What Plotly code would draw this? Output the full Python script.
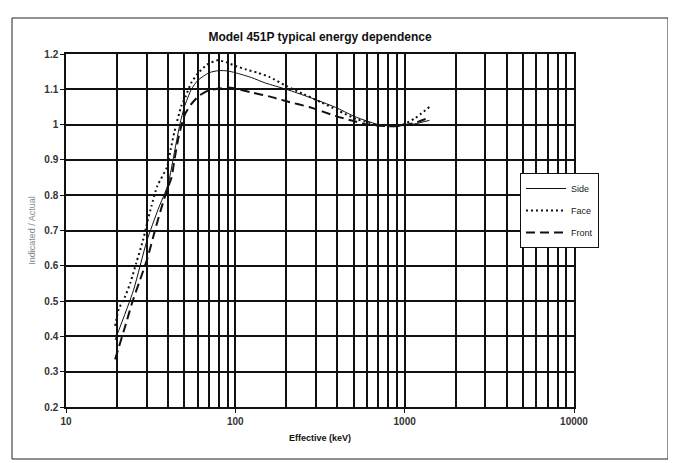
import plotly.graph_objects as go

# ---- data ----
side_e = [19.5, 25, 30, 35, 40, 44, 47, 50, 55, 60, 70, 80, 90, 100, 125, 150, 200, 275, 390, 500, 600, 700, 830, 965, 1150, 1400]
side_v = [0.39, 0.53, 0.67, 0.76, 0.83, 0.93, 1.0, 1.05, 1.10, 1.125, 1.147, 1.153, 1.152, 1.147, 1.133, 1.118, 1.10, 1.077, 1.049, 1.024, 1.01, 1.0, 0.996, 0.997, 1.002, 1.012]

face_e = [19.5, 20.5, 22.2, 24, 26, 28.5, 30.2, 32, 34.6, 39.5, 41.6, 43.6, 48, 51, 55, 60.6, 68, 78, 88, 99, 116, 135, 159, 201, 254, 322, 408, 517, 655, 811, 965, 1150, 1400]
face_v = [0.43, 0.478, 0.51, 0.552, 0.608, 0.672, 0.723, 0.77, 0.826, 0.88, 0.932, 0.978, 1.053, 1.081, 1.119, 1.147, 1.17, 1.182, 1.177, 1.167, 1.156, 1.147, 1.135, 1.109, 1.086, 1.063, 1.039, 1.016, 1.002, 0.995, 0.999, 1.018, 1.05]

front_e = [19.5, 22.6, 24.6, 27, 30.2, 33.9, 37.4, 40.3, 42, 43.8, 46, 48.3, 50.5, 54.9, 60.8, 68, 80, 90, 100, 125, 158, 201, 276, 393, 500, 600, 707, 830, 965, 1150, 1400]
front_v = [0.335, 0.436, 0.496, 0.552, 0.62, 0.709, 0.779, 0.826, 0.85, 0.903, 0.96, 1.002, 1.03, 1.058, 1.081, 1.095, 1.102, 1.105, 1.102, 1.091, 1.08, 1.066, 1.049, 1.024, 1.01, 1.0, 0.997, 0.995, 0.997, 1.005, 1.02]

x_major = [10, 100, 1000, 10000]
x_major_text = ["10", "100", "1000", "10000"]
x_minor = [m * d for d in (10, 100, 1000) for m in range(2, 10)]
y_ticks = [0.2, 0.3, 0.4, 0.5, 0.6, 0.7, 0.8, 0.9, 1.0, 1.1, 1.2]
y_tick_text = ["0.2", "0.3", "0.4", "0.5", "0.6", "0.7", "0.8", "0.9", "1", "1.1", "1.2"]

FONT = "Liberation Sans, Arial, sans-serif"

fig = go.Figure()
fig.add_trace(go.Scatter(x=side_e, y=side_v, name="Side", mode="lines", legendgroup="a",
                         line=dict(color="#111", width=1, shape="spline", smoothing=0.6)))
fig.add_trace(go.Scatter(x=face_e, y=face_v, name="Face", mode="lines", legendgroup="b",
                         line=dict(color="#111", width=2, dash="2px,3px", shape="spline", smoothing=0.6)))
fig.add_trace(go.Scatter(x=front_e, y=front_v, name="Front", mode="lines", legendgroup="c",
                         line=dict(color="#111", width=2, dash="9px,5px", shape="spline", smoothing=0.6)))

L, R, T, B = 58, 566, 46, 399
W, H = 676, 463
pw, ph = R - L, B - T

def px(x):
    return (x - L) / pw

def py(y):
    return (B - y) / ph

fig.update_layout(
    width=W, height=H,
    margin=dict(l=L, r=W - R, t=T, b=H - B, pad=0),
    paper_bgcolor="white", plot_bgcolor="white",
    font=dict(family=FONT, color="#222"),
    title=dict(text="Model 451P typical energy dependence", x=(L + R) / 2 / W, xanchor="center",
               y=1 - 29 / H, yanchor="middle", font=dict(size=12, family=FONT, color="#111", weight="bold")),
    showlegend=True,
    legend=dict(x=px(512), y=py(165), xanchor="left", yanchor="top",
                bgcolor="white", bordercolor="#111", borderwidth=1,
                font=dict(size=9, family=FONT, color="#222"),
                tracegroupgap=3, itemwidth=40, traceorder="grouped"),
    shapes=[dict(type="rect", xref="paper", yref="paper",
                 x0=px(4), x1=px(660), y0=py(451), y1=py(10),
                 line=dict(color="#222", width=1))],
)

fig.update_xaxes(type="log", range=[1, 4],
                 tickvals=x_major, ticktext=x_major_text,
                 ticks="outside", ticklen=4, tickcolor="#111", tickwidth=1,
                 showgrid=True, gridcolor="#111", gridwidth=1.5,
                 showline=True, linecolor="#111", linewidth=1.5, mirror=True,
                 minor=dict(tickvals=x_minor, showgrid=True, gridcolor="#111", gridwidth=1.5, ticklen=0),
                 tickfont=dict(size=10, family=FONT, color="#333", weight="bold"),
                 title=dict(text="Effective (keV)", standoff=9,
                            font=dict(size=9, family=FONT, color="#111", weight="bold")),
                 zeroline=False)
fig.update_yaxes(range=[0.2, 1.2], tickvals=y_ticks, ticktext=y_tick_text,
                 ticks="outside", ticklen=4, tickcolor="#111", tickwidth=1,
                 showgrid=True, gridcolor="#111", gridwidth=1.5,
                 showline=True, linecolor="#111", linewidth=1.5, mirror=True,
                 tickfont=dict(size=10, family=FONT, color="#333", weight="bold"),
                 title=dict(text="Indicated / Actual", standoff=7,
                            font=dict(size=9, family=FONT, color="#888")),
                 zeroline=False)

fig.write_html("out.html")
